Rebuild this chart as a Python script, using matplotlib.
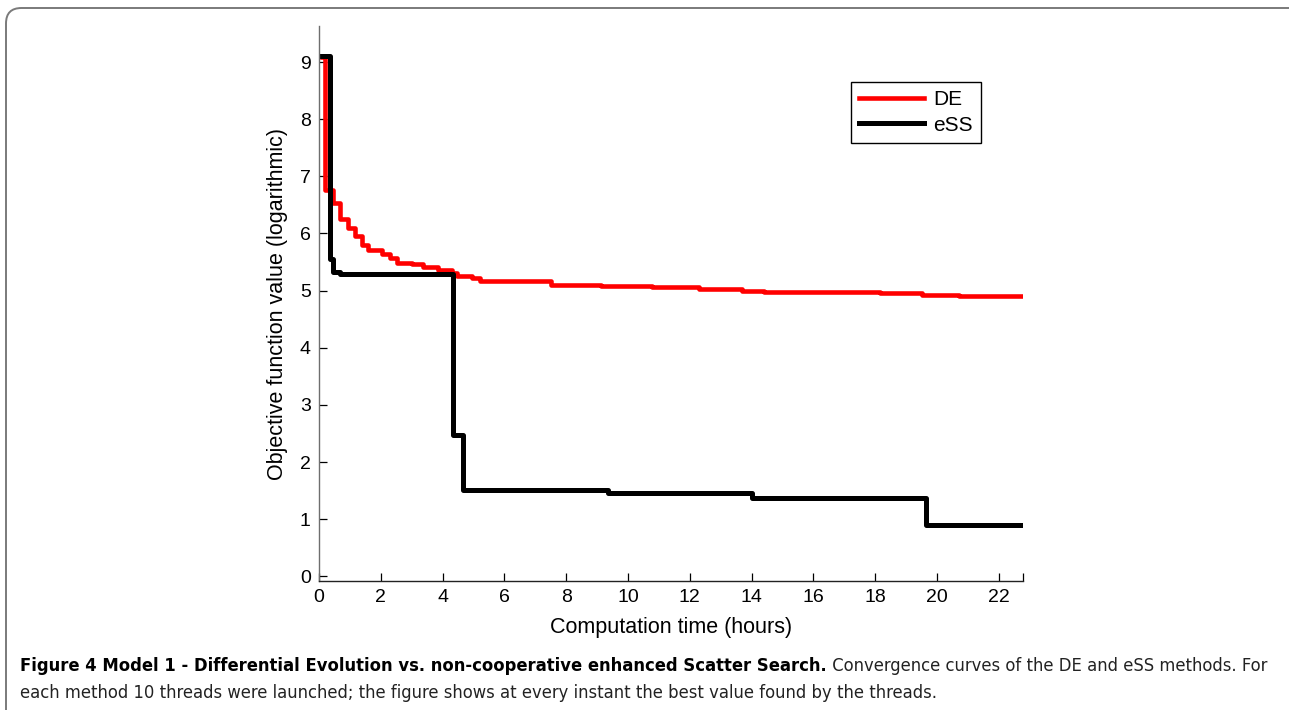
import matplotlib
matplotlib.use("Agg")
import matplotlib.pyplot as plt
from matplotlib.patches import FancyBboxPatch

# Curvas de convergencia (escalonadas, valor tras cada salto)
de_t = [0.1, 0.2, 0.45, 0.68, 0.95, 1.17, 1.38, 1.59, 2.03, 2.3, 2.51, 3.0, 3.38,
        3.85, 4.29, 4.45, 4.95, 5.2, 7.52, 9.14, 10.76, 12.28, 13.3, 13.7, 14.4,
        18.16, 19.5, 20.7, 22.75]
de_val = [9.08, 6.76, 6.53, 6.25, 6.10, 5.95, 5.80, 5.71, 5.64, 5.57, 5.49, 5.47, 5.41,
          5.36, 5.31, 5.25, 5.22, 5.16, 5.09, 5.08, 5.07, 5.035, 5.02, 4.99, 4.98,
          4.96, 4.93, 4.91, 4.91]

ess_t = [0.0, 0.36, 0.46, 0.68, 4.35, 4.67, 9.35, 14.0, 19.63, 22.75]
ess_val = [9.1, 5.55, 5.33, 5.29, 2.47, 1.52, 1.46, 1.37, 0.90, 0.90]

x_ticks = list(range(0, 23, 2))
y_ticks = list(range(0, 10))

caption_bold = "Figure 4 Model 1 - Differential Evolution vs. non-cooperative enhanced Scatter Search."
caption_rest = " Convergence curves of the DE and eSS methods. For"
caption_line2 = ("each method 10 threads were launched; the figure shows at every instant "
                 "the best value found by the threads.")

W, H = 1289, 710
fig = plt.figure(figsize=(W / 100, H / 100), dpi=100)
fig.patch.set_facecolor('white')

# marco redondeado de la figura
marco = FancyBboxPatch((6 / W, -0.05), 1.1, 1 - 8 / H + 0.05,
                       boxstyle="round,pad=0,rounding_size=0.012",
                       transform=fig.transFigure, fill=False,
                       edgecolor='#7a7a7a', linewidth=1.4, mutation_aspect=W / H)
fig.patches.append(marco)

ax = fig.add_axes([319 / W, 1 - 581 / H, (1023 - 319) / W, (581 - 26) / H])

fuente = ['Liberation Sans', 'DejaVu Sans']

ax.step(de_t, de_val, where='post', color='#ff0000', linewidth=3.3, label='DE')
ax.step(ess_t, ess_val, where='post', color='black', linewidth=3.6, label='eSS')

ax.set_xlim(0, 22.78)
ax.set_ylim(-0.08, 9.63)
ax.set_xticks(x_ticks)
ax.set_yticks(y_ticks)
ax.set_xticks([22.78], minor=True)
ax.tick_params(axis='both', direction='in', length=6, width=0.9, labelsize=14, colors='black')
ax.tick_params(axis='x', pad=6)
ax.tick_params(axis='y', pad=6)
ax.tick_params(axis='x', which='minor', direction='in', length=6, width=0.9)
for lab in ax.get_xticklabels() + ax.get_yticklabels():
    lab.set_family(fuente)

ax.spines['top'].set_visible(False)
ax.spines['right'].set_visible(False)
ax.spines['left'].set_color('#6e6e6e')
ax.spines['bottom'].set_color('#222222')
ax.spines['left'].set_linewidth(1.0)
ax.spines['bottom'].set_linewidth(1.0)

ax.set_xlabel('Computation time (hours)', fontsize=15.5, family=fuente, va='center')
ax.set_ylabel('Objective function value (logarithmic)', fontsize=15.5, family=fuente, va='center')
ax.xaxis.set_label_coords(0.5, (581 - 627) / (581 - 26))
ax.yaxis.set_label_coords((278 - 319) / (1023 - 319), 0.5)

leg = ax.legend(loc='upper left', bbox_to_anchor=(851 / W, 1 - 82 / H),
                bbox_transform=fig.transFigure, borderaxespad=0, fancybox=False,
                edgecolor='black', framealpha=1, handlelength=3.1, handletextpad=0.45,
                borderpad=0.4, labelspacing=0.3, prop={'family': fuente, 'size': 15})
leg.get_frame().set_linewidth(1.0)

# pie de figura: parte en negrita y resto normal en la misma línea
cap_font = ['DejaVu Sans']
fs = 12
t1 = fig.text(20 / W, 1 - 666 / H, caption_bold, fontsize=fs, fontweight='bold',
              family=cap_font, fontstretch='condensed', va='center', ha='left')
t2 = fig.text(0, 1 - 666 / H, caption_rest, fontsize=fs, family=cap_font,
              fontstretch='condensed', va='center', ha='left', color='#222222')
t3 = fig.text(20 / W, 1 - 693 / H, caption_line2, fontsize=fs, family=cap_font,
              fontstretch='condensed', va='center', ha='left', color='#222222')
rend = fig.canvas.get_renderer()
ancho = t1.get_window_extent(rend).width + t2.get_window_extent(rend).width
fs = fs * 1246 / ancho
for t in (t1, t2, t3):
    t.set_fontsize(fs)
bb = t1.get_window_extent(rend)
t2.set_x(bb.x1 / W)

fig.savefig('out.png', dpi=100, facecolor='white')
plt.close(fig)
